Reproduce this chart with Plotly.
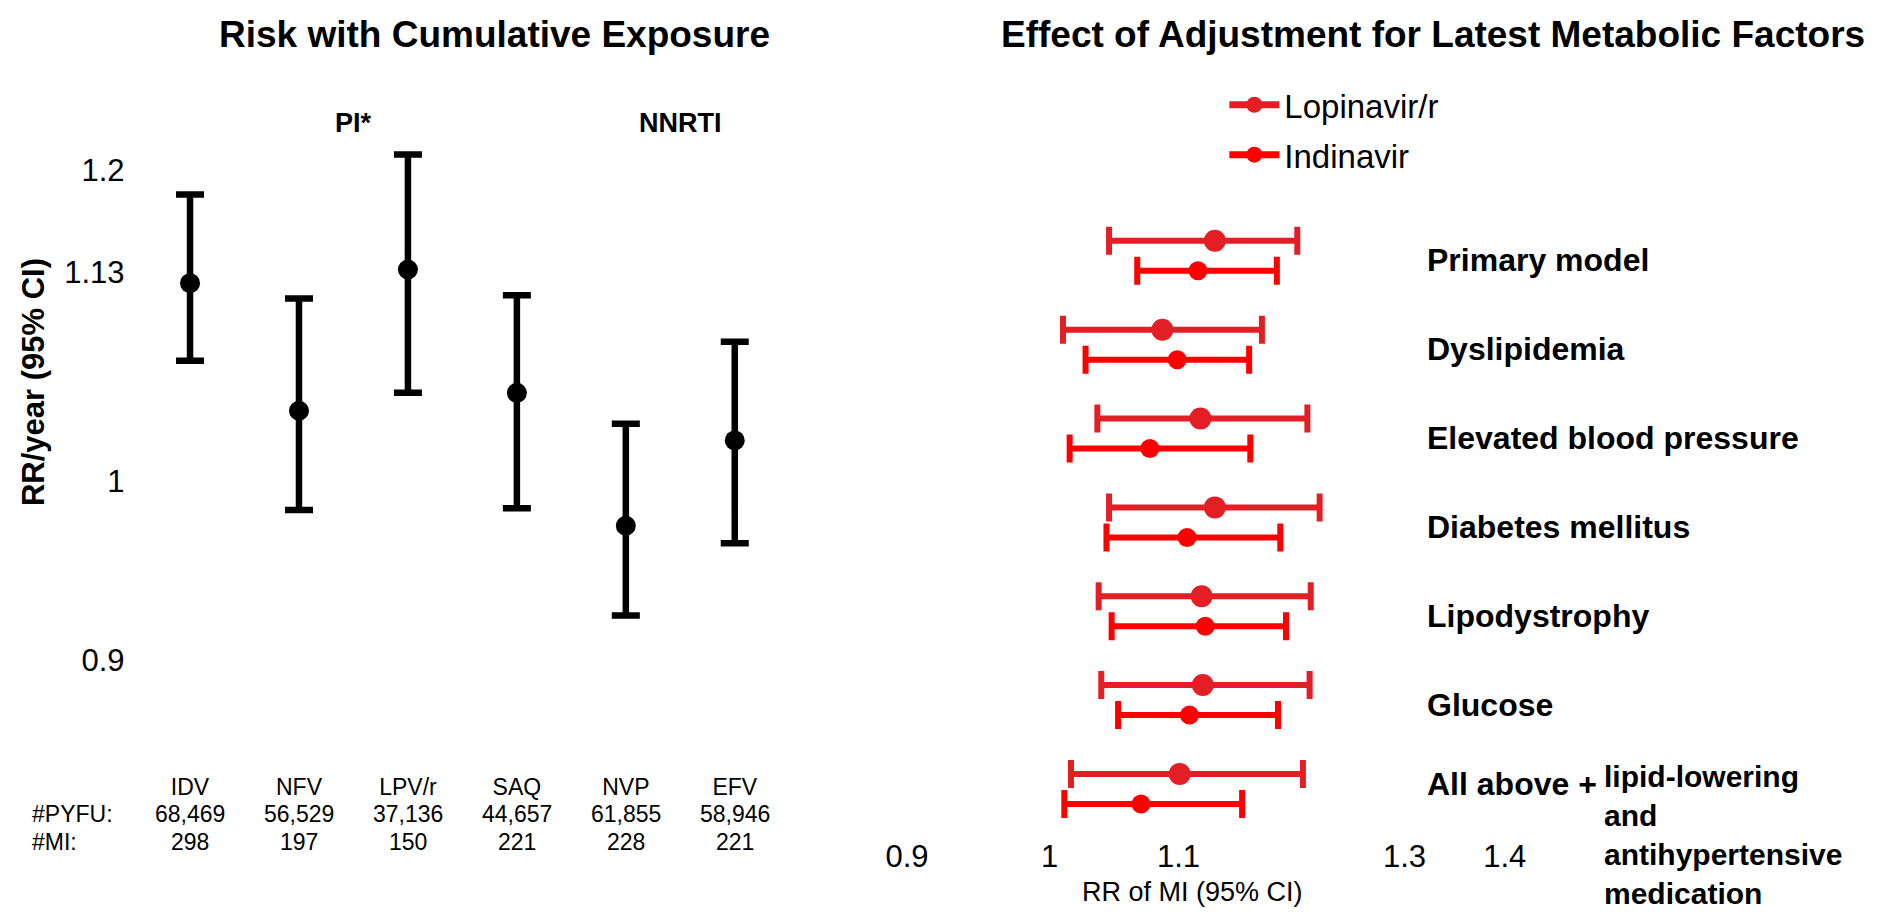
import plotly.graph_objects as go

# ---------------- data ----------------
drugs = ["IDV", "NFV", "LPV/r", "SAQ", "NVP", "EFV"]
pyfu = ["68,469", "56,529", "37,136", "44,657", "61,855", "58,946"]
mi_counts = ["298", "197", "150", "221", "228", "221"]
rr_year = [1.123, 1.042, 1.132, 1.053, 0.974, 1.024]
rr_year_lo = [1.073, 0.983, 1.053, 0.984, 0.924, 0.964]
rr_year_hi = [1.183, 1.113, 1.211, 1.115, 1.034, 1.085]
class_labels = ["PI*", "NNRTI"]
class_members = [["IDV", "NFV", "LPV/r", "SAQ"], ["NVP", "EFV"]]
left_ticks = [0.9, 1, 1.13, 1.2]

models = ["Primary model", "Dyslipidemia", "Elevated blood pressure",
          "Diabetes mellitus", "Lipodystrophy", "Glucose",
          "All above + lipid-lowering and antihypertensive medication"]
lpv_rr = [1.130, 1.087, 1.118, 1.130, 1.119, 1.120, 1.101]
lpv_lo = [1.045, 1.010, 1.036, 1.045, 1.037, 1.039, 1.016]
lpv_hi = [1.201, 1.170, 1.210, 1.221, 1.213, 1.212, 1.206]
idv_rr = [1.116, 1.099, 1.077, 1.107, 1.122, 1.109, 1.070]
idv_lo = [1.067, 1.027, 1.015, 1.043, 1.047, 1.052, 1.011]
idv_hi = [1.183, 1.159, 1.160, 1.186, 1.191, 1.184, 1.153]
right_ticks = [0.9, 1, 1.1, 1.3, 1.4]

# ---------------- style ----------------
W, H = 1892, 920
FONT = "Liberation Sans, Arial, sans-serif"
LPV_COLOR = "#E31E24"
IDV_COLOR = "#FF0000"


def fx(px):
    return px / W


def fy(py):
    return 1 - py / H


fig = go.Figure()

# ---- left panel ----
fig.add_trace(go.Scatter(
    x=drugs, y=rr_year, mode="markers", xaxis="x", yaxis="y",
    marker=dict(color="black", size=20),
    error_y=dict(type="data", symmetric=False,
                 array=[h - v for h, v in zip(rr_year_hi, rr_year)],
                 arrayminus=[v - l for v, l in zip(rr_year, rr_year_lo)],
                 color="black", thickness=6.5, width=14),
    showlegend=False, hoverinfo="skip"))

# ---- right panel ----
row_idx = list(range(len(models)))
OFF = 0.169
fig.add_trace(go.Scatter(
    x=lpv_rr, y=[i - OFF for i in row_idx], mode="markers", xaxis="x2", yaxis="y2",
    marker=dict(color=LPV_COLOR, size=22),
    error_x=dict(type="data", symmetric=False,
                 array=[h - v for h, v in zip(lpv_hi, lpv_rr)],
                 arrayminus=[v - l for v, l in zip(lpv_rr, lpv_lo)],
                 color=LPV_COLOR, thickness=6, width=14),
    showlegend=False, hoverinfo="skip"))
fig.add_trace(go.Scatter(
    x=idv_rr, y=[i + OFF for i in row_idx], mode="markers", xaxis="x2", yaxis="y2",
    marker=dict(color=IDV_COLOR, size=19),
    error_x=dict(type="data", symmetric=False,
                 array=[h - v for h, v in zip(idv_hi, idv_rr)],
                 arrayminus=[v - l for v, l in zip(idv_rr, idv_lo)],
                 color=IDV_COLOR, thickness=6, width=14),
    showlegend=False, hoverinfo="skip"))
# legend entries
fig.add_trace(go.Scatter(x=[None], y=[None], mode="lines+markers", name="Lopinavir/r",
                         xaxis="x2", yaxis="y2", legendgroup="a",
                         line=dict(color=LPV_COLOR, width=7), marker=dict(color=LPV_COLOR, size=20)))
fig.add_trace(go.Scatter(x=[None], y=[None], mode="lines+markers", name="Indinavir",
                         xaxis="x2", yaxis="y2", legendgroup="b",
                         line=dict(color=IDV_COLOR, width=7), marker=dict(color=IDV_COLOR, size=20)))

ann = []


def add(text, x, y, xref="paper", yref="paper", xa="center", ya="middle", size=25, **kw):
    ann.append(dict(text=text, x=x, y=y, xref=xref, yref=yref, xanchor=xa, yanchor=ya,
                    showarrow=False, font=dict(size=size), **kw))


# titles
add("<b>Risk with Cumulative Exposure</b>", fx(492), fy(27), size=37)
add("<b>Effect of Adjustment for Latest Metabolic Factors</b>", fx(1441), fy(27), size=37)
# class labels
for lab, mem in zip(class_labels, class_members):
    pos = sum(drugs.index(m) for m in mem) / len(mem)
    add("<b>%s</b>" % lab, pos, fy(117), xref="x", size=27)
# y title left
add("<b>RR/year (95% CI)</b>", fx(26), fy(381), size=31, textangle=-90)
# table rows
TBL = 23
add("#PYFU:", fx(22), fy(820), xa="left", size=TBL)
add("#MI:", fx(22), fy(849), xa="left", size=TBL)
for d, p, m in zip(drugs, pyfu, mi_counts):
    add(p, d, fy(820), xref="x", size=TBL)
    add(m, d, fy(849), xref="x", size=TBL)
# right x title
add("RR of MI (95% CI)", fx(1198), fy(900), size=27)
# row labels
for i, lab in enumerate(models):
    if " + " in lab:
        head, rest = lab.split(" + ", 1)
        add("<b>%s +</b>" % head, fx(1433), i - 0.06, yref="y2", xa="left", size=32)
        add("<b>%s</b>" % rest.replace(" ", "<br>"), fx(1612), i - 0.35, yref="y2",
            xa="left", ya="top", size=30, align="left")
    else:
        add("<b>%s</b>" % lab, fx(1433), i + 0.05, yref="y2", xa="left", size=32)

noaxis = dict(showgrid=False, zeroline=False, showline=False, ticks="")

fig.update_layout(
    margin=dict(l=0, r=0, t=0, b=0),
    paper_bgcolor="white", plot_bgcolor="white",
    font=dict(family=FONT, color="black"),
    annotations=ann,
    xaxis=dict(domain=[fx(129), fx(790)], type="category", range=[-0.5, 5.5],
               tickfont=dict(size=TBL), ticklabelstandoff=11, **noaxis),
    yaxis=dict(domain=[fy(765), fy(100)], type="log", range=[-0.07105, 0.09545],
               tickvals=left_ticks, ticktext=[str(v) for v in left_ticks],
               tickfont=dict(size=31), ticklabelstandoff=10, **noaxis),
    xaxis2=dict(domain=[fx(870), fx(1530)], type="log", range=[-0.05816, 0.15137],
                anchor="y2", tickvals=right_ticks, ticktext=[str(v) for v in right_ticks],
                tickfont=dict(size=31), ticklabelstandoff=2, **noaxis),
    yaxis2=dict(domain=[fy(840), fy(207)], range=[6.5, -0.5], anchor="x2",
                showticklabels=False, **noaxis),
    legend=dict(x=fx(1230), y=fy(70), xanchor="left", yanchor="top",
                font=dict(size=33), bgcolor="rgba(0,0,0,0)", itemwidth=50,
                tracegroupgap=4),
)

fig.write_html("out.html")
